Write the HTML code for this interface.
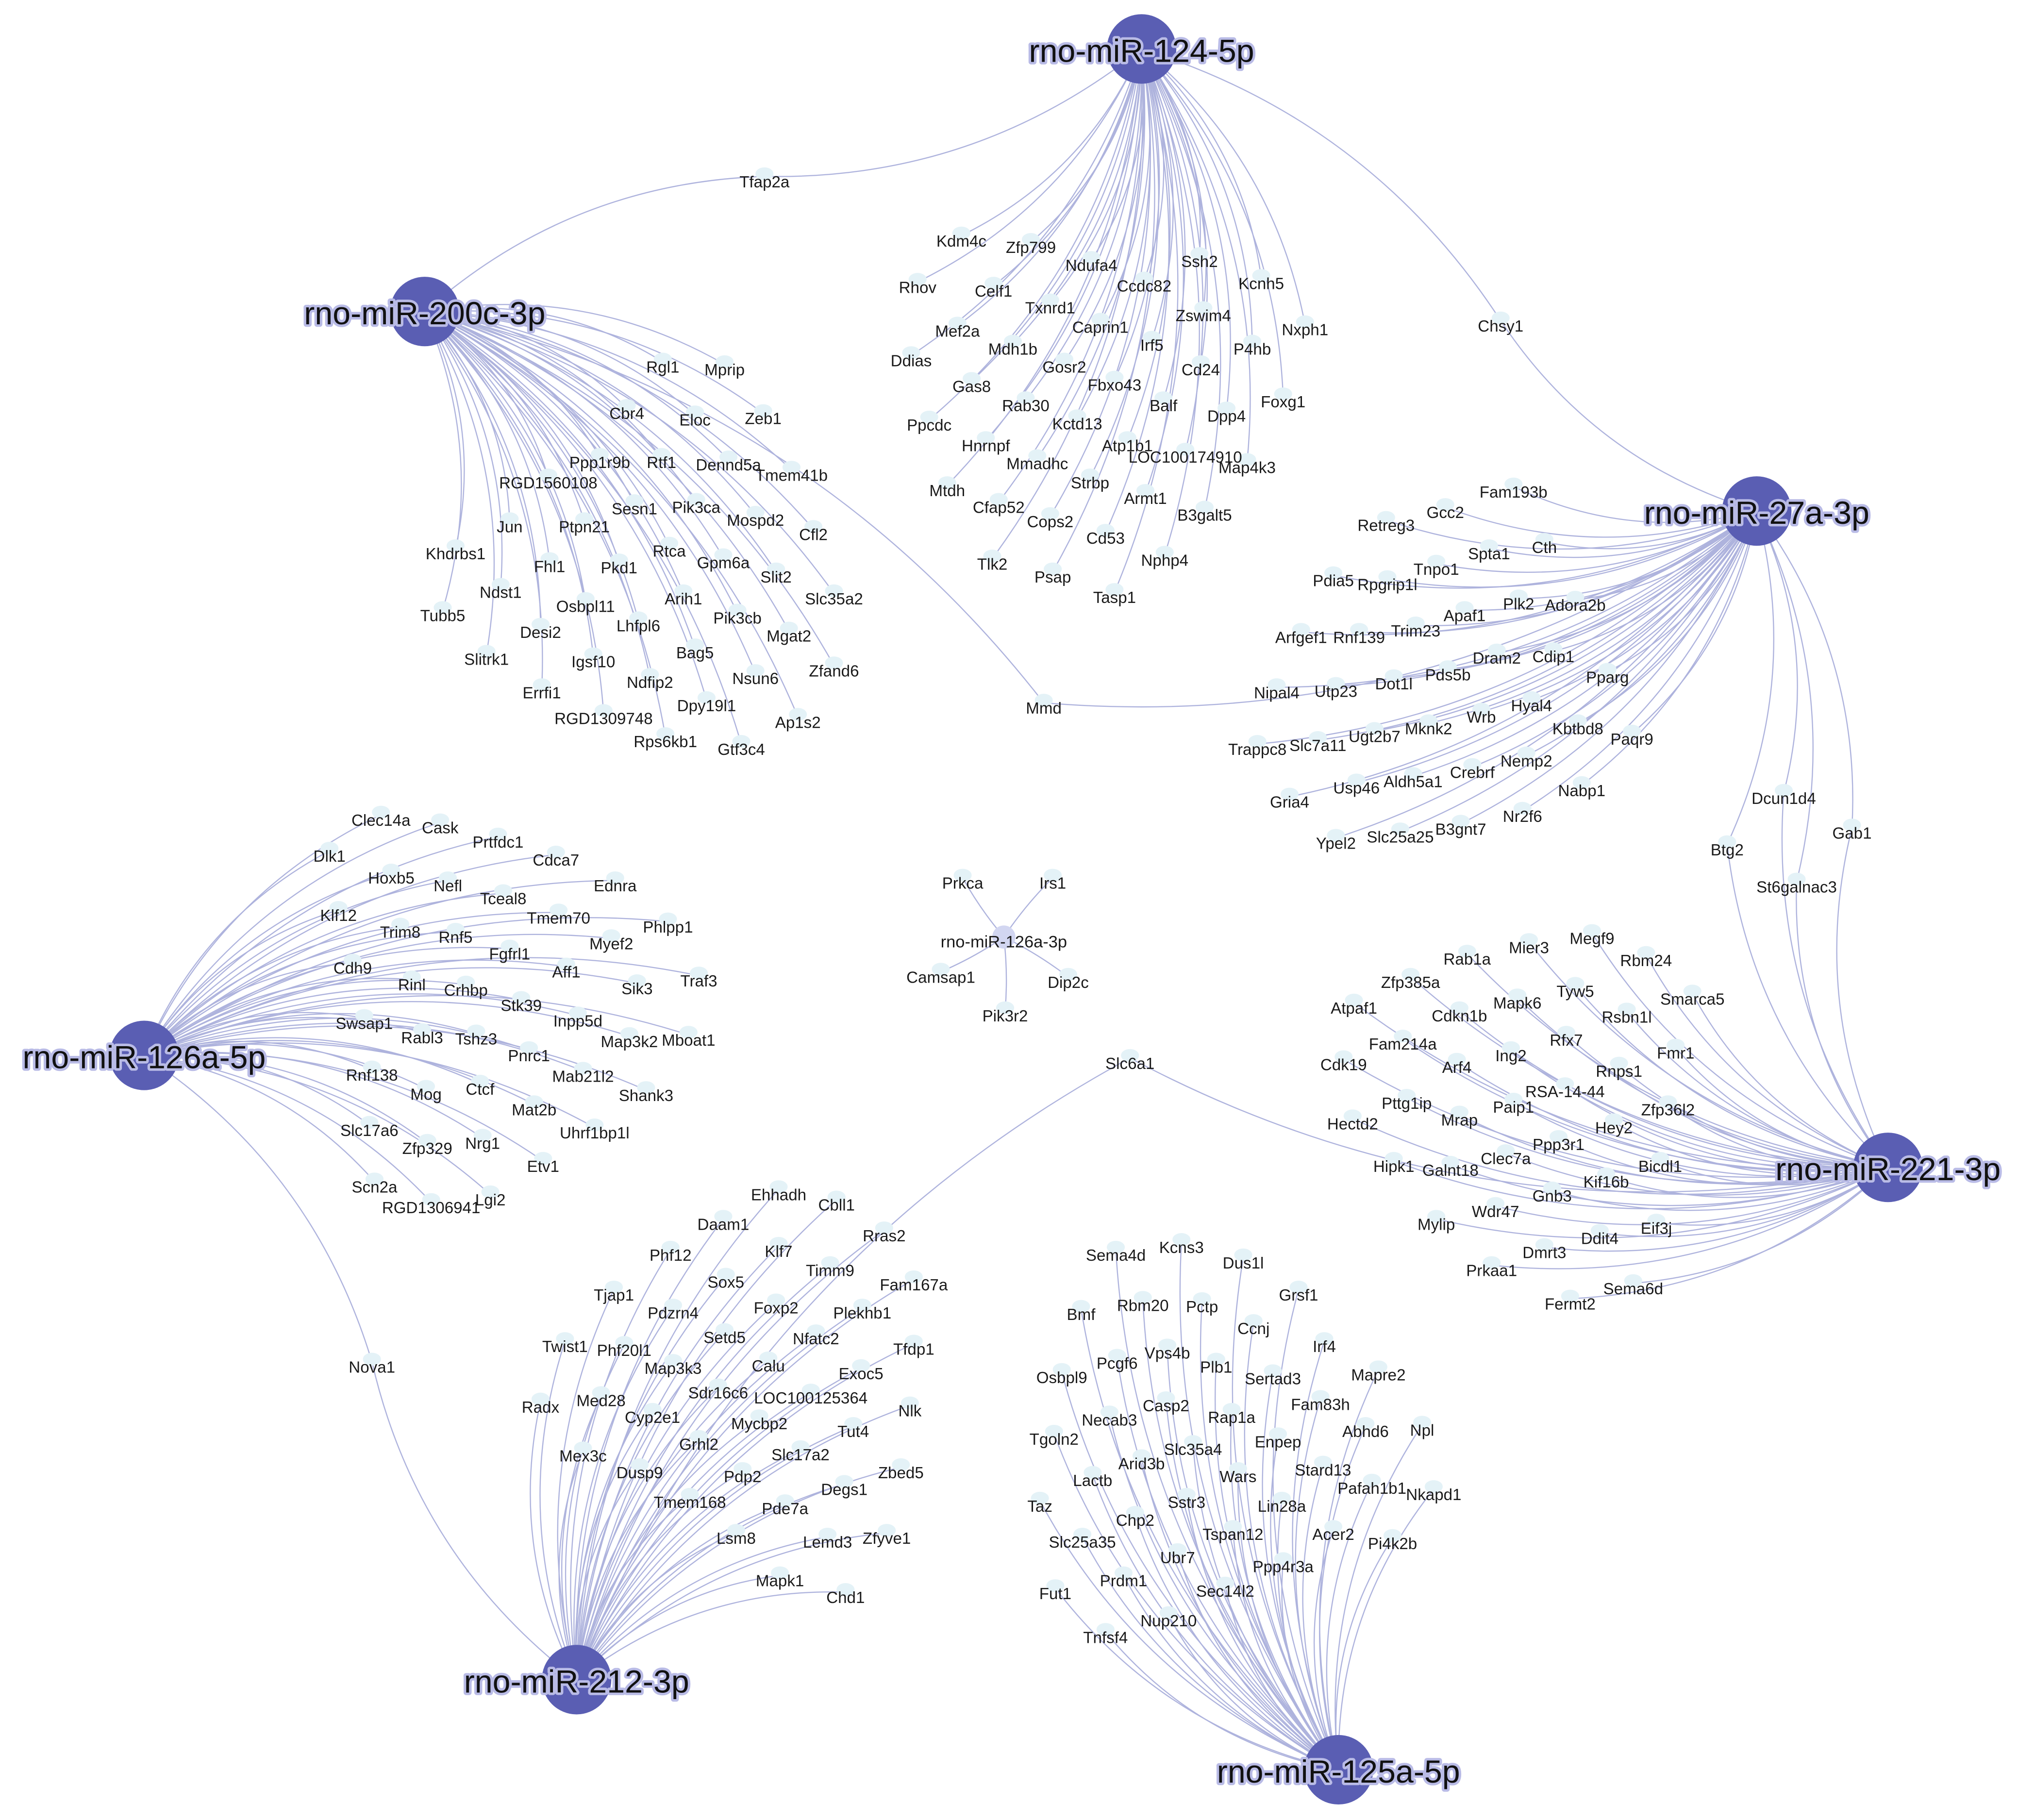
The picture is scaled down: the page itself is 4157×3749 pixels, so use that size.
<!DOCTYPE html>
<html><head><meta charset="utf-8">
<style>
html,body{margin:0;padding:0;background:#fff;}
svg{display:block;}
text{font-family:"Liberation Sans",sans-serif;}
</style></head>
<body>
<svg id="s" width="4157" height="3749" viewBox="0 0 1568 1414" xmlns="http://www.w3.org/2000/svg">
<rect width="1568" height="1414" fill="#fff"/>
<g id="edges" fill="none" stroke="#aeb3dd" stroke-width="0.9"></g>
<g id="dots" fill="#e4f2f7"></g>
<g id="labels" font-size="12.5" fill="#1a1a1a" text-anchor="middle"></g>
<g id="hubs"></g>
</svg>
<script>
var H={
a:[887,38,"rno-miR-124-5p"],
b:[330,242,"rno-miR-200c-3p"],
c:[1365,397,"rno-miR-27a-3p"],
d:[112,820,"rno-miR-126a-5p"],
e:[1467,907,"rno-miR-221-3p"],
f:[448,1305,"rno-miR-212-3p"],
g:[1040,1375,"rno-miR-125a-5p"]
};
var D={
a:"Kdm4c 747 187;Zfp799 801 192;Rhov 713 223;Celf1 772 226;Ndufa4 848 206;Ssh2 932 203;Ccdc82 889 222;Kcnh5 980 220;Txnrd1 816 239;Zswim4 935 245;Mef2a 744 257;Caprin1 855 254;Nxph1 1014 256;Irf5 895 268;P4hb 973 271;Mdh1b 787 271;Ddias 708 280;Gosr2 827 285;Cd24 933 287;Gas8 755 300;Fbxo43 866 299;Foxg1 997 312;Rab30 797 315;Balf 904 315;Dpp4 953 323;Ppcdc 722 330;Kctd13 837 329;Atp1b1 876 346;Hnrnpf 766 346;LOC100174910 921 355;Mmadhc 806 360;Map4k3 969 363;Mtdh 736 381;Strbp 847 375;Armt1 890 387;Cfap52 776 394;Cops2 816 405;B3galt5 936 400;Cd53 859 418;Tlk2 771 438;Nphp4 905 435;Psap 818 448;Tasp1 866 464;Tfap2a 594 141;Chsy1 1166 253",
b:"Rgl1 515 285;Mprip 563 287;Cbr4 487 321;Eloc 540 326;Zeb1 593 325;Ppp1r9b 466 359;Rtf1 514 359;Dennd5a 566 361;Tmem41b 615 369;RGD1560108 426 375;Sesn1 493 395;Pik3ca 541 394;Mospd2 587 404;Jun 396 409;Ptpn21 454 409;Cfl2 632 415;Khdrbs1 354 430;Rtca 520 428;Fhl1 427 440;Pkd1 481 441;Gpm6a 562 437;Slit2 603 448;Ndst1 389 460;Arih1 531 465;Osbpl11 455 471;Slc35a2 648 465;Tubb5 344 478;Pik3cb 573 480;Lhfpl6 496 486;Desi2 420 491;Mgat2 613 494;Bag5 540 507;Slitrk1 378 512;Igsf10 461 514;Zfand6 648 521;Ndfip2 505 530;Nsun6 587 527;Errfi1 421 538;Dpy19l1 549 548;RGD1309748 469 558;Ap1s2 620 561;Rps6kb1 517 576;Gtf3c4 576 582;Tfap2a 594 141;Mmd 811 550",
c:"Fam193b 1176 382;Gcc2 1123 398;Retreg3 1077 408;Cth 1200 425;Spta1 1157 430;Tnpo1 1116 442;Pdia5 1036 451;Rpgrip1l 1078 454;Plk2 1180 469;Adora2b 1224 470;Apaf1 1138 478;Arfgef1 1011 495;Rnf139 1056 495;Trim23 1100 490;Pds5b 1125 524;Dram2 1163 511;Cdip1 1207 510;Pparg 1249 526;Nipal4 992 538;Utp23 1038 537;Dot1l 1083 531;Hyal4 1190 548;Wrb 1151 557;Kbtbd8 1226 566;Mknk2 1110 566;Ugt2b7 1068 572;Paqr9 1268 574;Trappc8 977 582;Slc7a11 1024 579;Nemp2 1186 591;Crebrf 1144 600;Aldh5a1 1098 607;Usp46 1054 612;Nabp1 1229 614;Gria4 1002 623;Nr2f6 1183 634;B3gnt7 1135 644;Slc25a25 1088 650;Ypel2 1038 655;Dcun1d4 1386 620;Gab1 1439 647;Btg2 1342 660;St6galnac3 1396 689;Chsy1 1166 253;Mmd 811 550",
d:"Clec14a 296 637;Cask 342 643;Prtfdc1 387 654;Dlk1 256 665;Cdca7 432 668;Hoxb5 304 682;Nefl 348 688;Ednra 478 688;Tceal8 391 698;Klf12 263 711;Tmem70 434 713;Phlpp1 519 720;Trim8 311 724;Rnf5 354 728;Myef2 475 733;Fgfrl1 396 741;Cdh9 274 752;Aff1 440 755;Traf3 543 762;Rinl 320 765;Crhbp 362 769;Sik3 495 768;Stk39 405 781;Swsap1 283 795;Inpp5d 449 793;Rabl3 328 806;Tshz3 370 807;Map3k2 489 809;Mboat1 535 808;Pnrc1 411 820;Mab21l2 453 836;Rnf138 289 835;Ctcf 373 846;Mog 331 850;Shank3 502 851;Mat2b 415 862;Uhrf1bp1l 462 880;Slc17a6 287 878;Zfp329 332 892;Nrg1 375 888;Etv1 422 906;Scn2a 291 922;Lgi2 381 932;RGD1306941 335 938;Nova1 289 1062",
e:"Rab1a 1140 745;Mier3 1188 736;Megf9 1237 729;Rbm24 1279 746;Zfp385a 1096 763;Tyw5 1224 770;Smarca5 1315 776;Mapk6 1179 779;Atpaf1 1052 783;Cdkn1b 1134 789;Rsbn1l 1264 790;Rfx7 1217 808;Fam214a 1090 811;Fmr1 1302 818;Ing2 1174 820;Arf4 1132 829;Cdk19 1044 827;Rnps1 1258 832;RSA-14-44 1216 848;Pttg1ip 1093 857;Paip1 1176 860;Zfp36l2 1296 862;Mrap 1134 870;Hectd2 1051 873;Hey2 1254 876;Ppp3r1 1211 889;Clec7a 1170 900;Hipk1 1083 906;Galnt18 1127 909;Bicdl1 1290 906;Kif16b 1248 918;Gnb3 1206 929;Wdr47 1162 941;Mylip 1116 951;Eif3j 1287 954;Ddit4 1243 962;Dmrt3 1200 973;Prkaa1 1159 987;Sema6d 1269 1001;Fermt2 1220 1013;Dcun1d4 1386 620;Gab1 1439 647;Btg2 1342 660;St6galnac3 1396 689;Slc6a1 878 826",
f:"Ehhadh 605 928;Cbll1 650 936;Daam1 562 951;Klf7 605 972;Rras2 687 960;Phf12 521 975;Timm9 645 987;Sox5 564 996;Fam167a 710 998;Tjap1 477 1006;Foxp2 603 1016;Plekhb1 670 1020;Pdzrn4 523 1020;Setd5 563 1039;Nfatc2 634 1040;Twist1 439 1046;Phf20l1 485 1049;Tfdp1 710 1048;Map3k3 523 1063;Calu 597 1061;Exoc5 669 1067;Radx 420 1093;Med28 467 1088;Sdr16c6 558 1082;LOC100125364 630 1086;Nlk 707 1096;Cyp2e1 507 1101;Mycbp2 590 1106;Tut4 663 1112;Mex3c 453 1131;Grhl2 543 1122;Slc17a2 622 1130;Dusp9 497 1144;Pdp2 577 1147;Zbed5 700 1144;Degs1 656 1157;Tmem168 536 1167;Pde7a 610 1172;Lsm8 572 1195;Lemd3 643 1198;Zfyve1 689 1195;Mapk1 606 1228;Chd1 657 1241;Nova1 289 1062;Slc6a1 878 826",
g:"Kcns3 918 969;Sema4d 867 975;Dus1l 966 981;Grsf1 1009 1006;Rbm20 888 1014;Bmf 840 1021;Pctp 934 1015;Ccnj 974 1032;Irf4 1029 1046;Vps4b 907 1051;Pcgf6 868 1059;Plb1 945 1062;Mapre2 1071 1068;Osbpl9 825 1070;Sertad3 989 1071;Fam83h 1026 1091;Casp2 906 1092;Necab3 862 1103;Rap1a 957 1101;Abhd6 1061 1112;Npl 1105 1111;Tgoln2 819 1118;Enpep 993 1120;Slc35a4 927 1126;Arid3b 887 1137;Stard13 1028 1142;Wars 962 1147;Lactb 849 1150;Pafah1b1 1066 1156;Nkapd1 1114 1161;Sstr3 922 1167;Lin28a 996 1170;Taz 808 1170;Chp2 882 1181;Acer2 1036 1192;Tspan12 958 1192;Pi4k2b 1082 1199;Slc25a35 841 1198;Ppp4r3a 997 1217;Ubr7 915 1210;Prdm1 873 1228;Sec14l2 952 1236;Fut1 820 1238;Nup210 908 1259;Tnfsf4 859 1272"
};
var NS="http://www.w3.org/2000/svg";
function el(t,a,p,txt){var e=document.createElementNS(NS,t);for(var k in a)e.setAttribute(k,a[k]);if(txt)e.textContent=txt;document.getElementById(p).appendChild(e);return e;}
var seen={};
function node(n,x,y){if(seen[n])return;seen[n]=1;el("ellipse",{cx:x,cy:y-6,rx:7,ry:5},"dots");el("text",{x:x,y:y+4.5},"labels",n);}
function edge(x1,y1,x2,y2,k){var dx=x2-x1,dy=y2-y1;var mx=(x1+x2)/2+k*dy,my=(y1+y2)/2-k*dx;el("path",{d:"M"+x1+" "+y1+"Q"+mx+" "+my+" "+x2+" "+y2},"edges");}
for(var h in D){var hb=H[h];D[h].split(";").forEach(function(s){var p=s.split(" ");var x=+p[1],y=+p[2];edge(hb[0],hb[1],x,y-4,0.18);node(p[0],x,y);});}
var c3=[780,728];
"Prkca 748 686;Irs1 818 686;Camsap1 731 759;Dip2c 830 763;Pik3r2 781 789".split(";").forEach(function(s){var p=s.split(" ");edge(c3[0],c3[1],+p[1],+p[2]-4,0.05);node(p[0],+p[1],+p[2]);});
el("circle",{cx:780,cy:728,r:9,fill:"#d2d6f1"},"dots");
el("text",{x:780,y:736,"font-size":"13"},"labels","rno-miR-126a-3p");
for(var h in H){var hb=H[h];el("circle",{cx:hb[0],cy:hb[1],r:27,fill:"#5a5eb3"},"hubs");
el("text",{x:hb[0],y:hb[1]+10,"font-size":"25","text-anchor":"middle",fill:"#111",stroke:"#b9bbe6","stroke-width":"4","paint-order":"stroke","stroke-linejoin":"round"},"hubs",hb[2]);}
</script>
</body></html>
